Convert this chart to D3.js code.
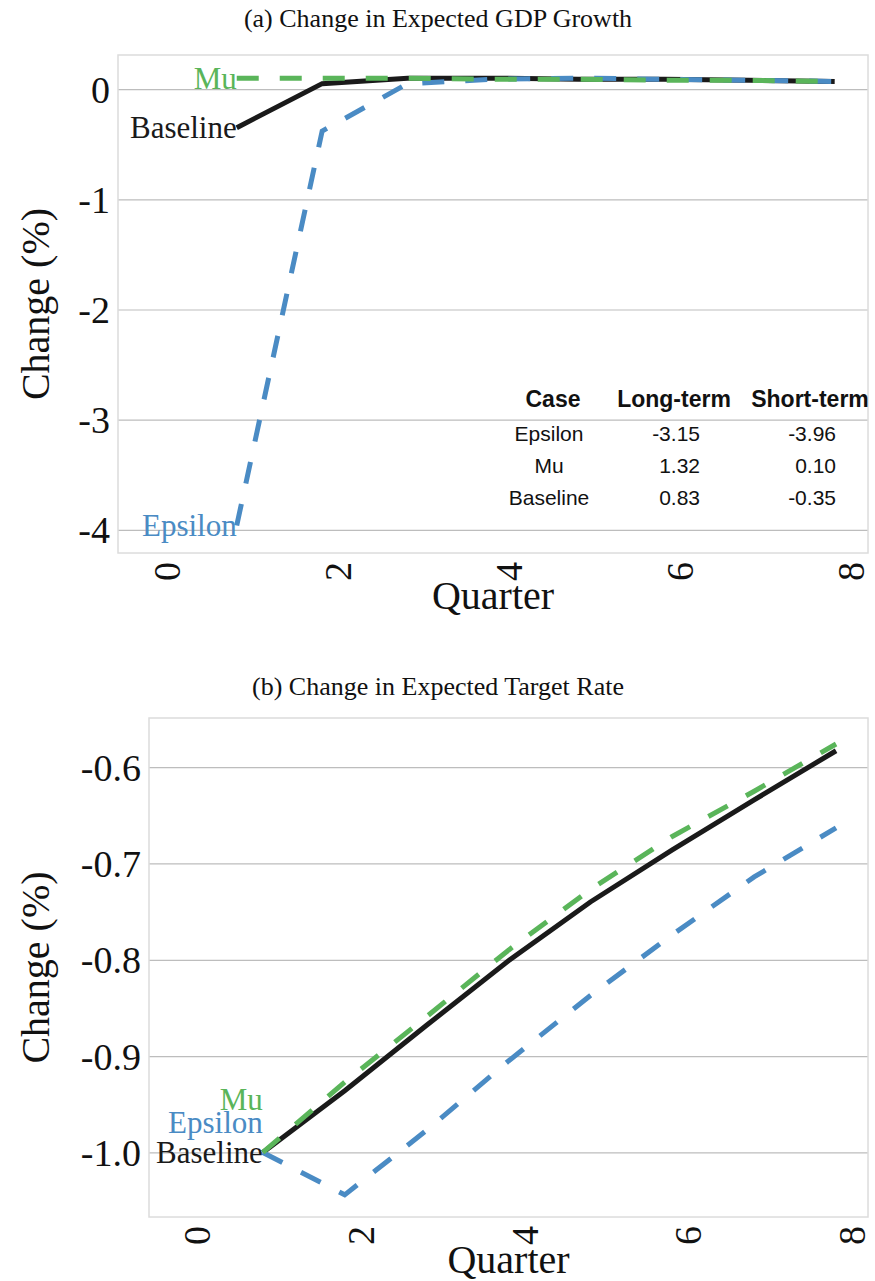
<!DOCTYPE html>
<html>
<head>
<meta charset="utf-8">
<script src="https://cdn.jsdelivr.net/npm/d3@7"></script>
<style>
  html, body { margin: 0; padding: 0; background: #fff; }
  svg { display: block; }
</style>
</head>
<body>
<svg id="chart" width="875" height="1281"></svg>
<script>
// ---------------- DATA ----------------
const quarters = [1, 2, 3, 4, 5, 6, 7, 8];
const xTicks = [0, 2, 4, 6, 8];
const xTickLabels = ["0", "2", "4", "6", "8"];

// Panel (a) Change in Expected GDP Growth
const gdpBaseline = [-0.35, 0.05, 0.10, 0.10, 0.09, 0.09, 0.08, 0.07];
const gdpEpsilon  = [-3.96, -0.38, 0.05, 0.09, 0.10, 0.09, 0.08, 0.07];
const gdpMu       = [0.10, 0.10, 0.10, 0.09, 0.09, 0.08, 0.08, 0.07];
const gdpYTicks = [0, -1, -2, -3, -4];
const gdpYTickLabels = ["0", "-1", "-2", "-3", "-4"];

// Panel (b) Change in Expected Target Rate
const rateBaseline = [-1.0, -0.936, -0.868, -0.801, -0.740, -0.686, -0.634, -0.583];
const rateEpsilon  = [-1.0, -1.044, -0.977, -0.905, -0.837, -0.774, -0.714, -0.663];
const rateMu       = [-1.0, -0.927, -0.859, -0.790, -0.727, -0.672, -0.625, -0.576];
const rateYTicks = [-0.6, -0.7, -0.8, -0.9, -1.0];
const rateYTickLabels = ["-0.6", "-0.7", "-0.8", "-0.9", "-1.0"];

// Inset table
const tableHeader = ["Case", "Long-term", "Short-term"];
const tableCases = ["Epsilon", "Mu", "Baseline"];
const tableLong = ["-3.15", "1.32", "0.83"];
const tableShort = ["-3.96", "0.10", "-0.35"];

const titles = ["(a) Change in Expected GDP Growth", "(b) Change in Expected Target Rate"];
const yLabel = "Change (%)";
const xLabel = "Quarter";

// ---------------- STYLE ----------------
const SERIF = "'Liberation Serif', 'Times New Roman', Times, serif";
const SANS = "'Liberation Sans', Arial, Helvetica, sans-serif";
const C_BLACK = "#1a1a1a", C_BLUE = "#4a8bc4", C_GREEN = "#5ab55a";
const GRID = "#bdbdbd", FRAME = "#dcdcdc";
const DASH = "22,21";

const svg = d3.select("#chart");
svg.append("rect").attr("width", 875).attr("height", 1281).attr("fill", "#fff");

function panel(cfg) {
  const g = svg.append("g");
  const x = d3.scaleLinear().domain([-0.39, 8.39]).range([cfg.left, cfg.right]);
  const y = d3.scaleLinear().domain(cfg.yDomain).range([cfg.bottom, cfg.top]);

  // title
  g.append("text").attr("x", 438).attr("y", cfg.titleY)
    .attr("text-anchor", "middle").attr("font-family", SERIF).attr("font-size", 26)
    .attr("fill", "#111").text(cfg.title);

  // grid lines via axis
  const yAxis = d3.axisLeft(y).tickValues(cfg.yTicks)
    .tickFormat((d, i) => cfg.yTickLabels[i])
    .tickSize(-(cfg.right - cfg.left)).tickPadding(8);
  const ya = g.append("g").attr("transform", `translate(${cfg.left},0)`).call(yAxis);
  ya.select(".domain").remove();
  ya.selectAll(".tick line").attr("stroke", GRID).attr("stroke-width", 1.2);
  ya.selectAll(".tick text").attr("font-family", SERIF).attr("font-size", 38)
    .attr("fill", "#111").attr("dy", "0.34em");

  // frame
  g.append("rect").attr("x", cfg.left).attr("y", cfg.top)
    .attr("width", cfg.right - cfg.left).attr("height", cfg.bottom - cfg.top)
    .attr("fill", "none").attr("stroke", FRAME).attr("stroke-width", 1.5);

  // x axis
  const xAxis = d3.axisBottom(x).tickValues(xTicks)
    .tickFormat((d, i) => xTickLabels[i]).tickSize(0).tickPadding(0);
  const xa = g.append("g").attr("transform", `translate(0,${cfg.bottom})`).call(xAxis);
  xa.select(".domain").remove();
  xa.selectAll(".tick text")
    .attr("font-family", SERIF).attr("font-size", 38).attr("fill", "#111")
    .attr("text-anchor", "end")
    .attr("transform", "translate(0,9) rotate(-90)")
    .attr("x", 0).attr("y", 0).attr("dy", "0.75em");

  // axis labels
  g.append("text").attr("transform", `translate(49,${(cfg.top + cfg.bottom) / 2}) rotate(-90)`)
    .attr("text-anchor", "middle").attr("font-family", SERIF).attr("font-size", 40)
    .attr("fill", "#111").text(yLabel);
  g.append("text").attr("x", (cfg.left + cfg.right) / 2).attr("y", cfg.bottom + 56)
    .attr("text-anchor", "middle").attr("font-family", SERIF).attr("font-size", 40)
    .attr("fill", "#111").text(xLabel);

  // lines
  const line = d3.line().x((d, i) => x(quarters[i])).y(d => y(d));
  cfg.series.forEach(s => {
    g.append("path").datum(s.values).attr("d", line)
      .attr("fill", "none").attr("stroke", s.color).attr("stroke-width", 5)
      .attr("stroke-dasharray", s.dashed ? DASH : null)
      .attr("stroke-linejoin", "miter");
  });
  // labels at first point
  cfg.series.forEach(s => {
    g.append("text").attr("x", x(quarters[0])).attr("y", y(s.values[0]) + s.labelDy)
      .attr("dy", "0.34em").attr("text-anchor", "end")
      .attr("font-family", SERIF).attr("font-size", 31).attr("fill", s.color).text(s.name);
  });
  return { g, x, y };
}

panel({
  title: titles[0], titleY: 27,
  left: 118, right: 868, top: 55, bottom: 553,
  yDomain: [-4.21, 0.31], yTicks: gdpYTicks, yTickLabels: gdpYTickLabels,
  series: [
    { name: "Baseline", values: gdpBaseline, color: C_BLACK, dashed: false, labelDy: 0 },
    { name: "Epsilon", values: gdpEpsilon, color: C_BLUE, dashed: true, labelDy: 0 },
    { name: "Mu", values: gdpMu, color: C_GREEN, dashed: true, labelDy: 0 }
  ]
});

panel({
  title: titles[1], titleY: 695,
  left: 149, right: 868, top: 718, bottom: 1217,
  yDomain: [-1.067, -0.549], yTicks: rateYTicks, yTickLabels: rateYTickLabels,
  series: [
    { name: "Baseline", values: rateBaseline, color: C_BLACK, dashed: false, labelDy: 0 },
    { name: "Epsilon", values: rateEpsilon, color: C_BLUE, dashed: true, labelDy: -30 },
    { name: "Mu", values: rateMu, color: C_GREEN, dashed: true, labelDy: -53 }
  ]
});

// inset table (panel a)
const tbl = svg.append("g").attr("font-family", SANS).attr("fill", "#111");
const colX = [553, 674, 810];
tableHeader.forEach((h, i) => {
  tbl.append("text").attr("x", colX[i]).attr("y", 407).attr("text-anchor", "middle")
    .attr("font-weight", "bold").attr("font-size", 23).text(h);
});
tableCases.forEach((c, r) => {
  const yy = 441 + r * 32;
  tbl.append("text").attr("x", 549).attr("y", yy).attr("text-anchor", "middle")
    .attr("font-size", 21).text(c);
  tbl.append("text").attr("x", 700).attr("y", yy).attr("text-anchor", "end")
    .attr("font-size", 21).text(tableLong[r]);
  tbl.append("text").attr("x", 836).attr("y", yy).attr("text-anchor", "end")
    .attr("font-size", 21).text(tableShort[r]);
});
</script>
</body>
</html>
